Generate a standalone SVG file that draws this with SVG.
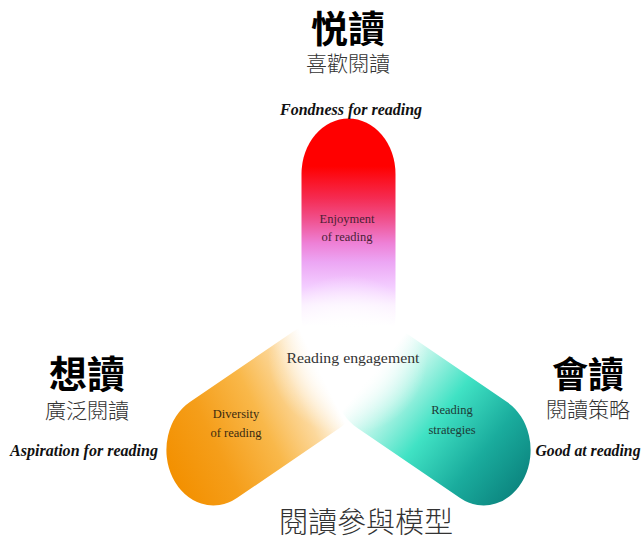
<svg xmlns="http://www.w3.org/2000/svg" width="642" height="540" viewBox="0 0 642 540">
<style>
.cjkb{font-family:"Noto Sans CJK TC","Noto Sans CJK SC",sans-serif;font-weight:700;fill:#000;text-anchor:middle}
.cjk{font-family:"Noto Sans CJK TC","Noto Sans CJK SC",sans-serif;font-weight:300;fill:#333;text-anchor:middle}
.en{font-family:"Liberation Serif",serif;font-weight:700;font-style:italic;font-size:16px;fill:#111;text-anchor:middle}
.lbl{font-family:"Liberation Serif",serif;font-size:12.5px;text-anchor:middle}
</style>
<defs>
<linearGradient id="gTop" gradientUnits="userSpaceOnUse" x1="0" y1="0" x2="203" y2="0">
<stop offset="0" stop-color="#ffffff"/>
<stop offset="0.13" stop-color="#ffffff"/>
<stop offset="0.22" stop-color="#fbeeff"/>
<stop offset="0.3" stop-color="#f3ccff"/>
<stop offset="0.4" stop-color="#eca6f4"/>
<stop offset="0.48" stop-color="#ee80d6"/>
<stop offset="0.58" stop-color="#f0508c"/>
<stop offset="0.67" stop-color="#f52a50"/>
<stop offset="0.8" stop-color="#ff0000"/>
<stop offset="1" stop-color="#ff0000"/>
</linearGradient>
<linearGradient id="gLeft" gradientUnits="userSpaceOnUse" x1="0" y1="0" x2="203" y2="0">
<stop offset="0" stop-color="#ffffff"/>
<stop offset="0.15" stop-color="#ffffff"/>
<stop offset="0.3" stop-color="#fcd89c"/>
<stop offset="0.5" stop-color="#f9b84a"/>
<stop offset="0.75" stop-color="#f59e1a"/>
<stop offset="1" stop-color="#f39000"/>
</linearGradient>
<linearGradient id="gRight" gradientUnits="userSpaceOnUse" x1="0" y1="-20" x2="203" y2="30">
<stop offset="0" stop-color="#ffffff"/>
<stop offset="0.15" stop-color="#ffffff"/>
<stop offset="0.3" stop-color="#b2f4e6"/>
<stop offset="0.5" stop-color="#40e2c4"/>
<stop offset="0.75" stop-color="#1aac9d"/>
<stop offset="1" stop-color="#0b827d"/>
</linearGradient>
<radialGradient id="glow" gradientUnits="userSpaceOnUse" cx="348" cy="355" r="80">
<stop offset="0" stop-color="#ffffff" stop-opacity="1"/>
<stop offset="0.4" stop-color="#ffffff" stop-opacity="0.85"/>
<stop offset="1" stop-color="#ffffff" stop-opacity="0"/>
</radialGradient>
</defs>
<rect width="642" height="540" fill="#ffffff"/>
<g id="arms" transform="translate(348.5,358) scale(1,1.18)">
<g id="arm-top" transform="rotate(-90)">
<rect x="-10" y="-47" width="213" height="94" rx="47" fill="url(#gTop)"/>
</g>
<g id="arm-left" transform="rotate(150)">
<rect x="-10" y="-47" width="213" height="94" rx="47" fill="url(#gLeft)"/>
</g>
<g id="arm-right" transform="rotate(30)">
<rect x="-10" y="-47" width="213" height="94" rx="47" fill="url(#gRight)"/>
</g>
</g>
<circle cx="348" cy="355" r="80" fill="url(#glow)"/>
<g id="arm-labels">
<text class="lbl" x="347" y="223" fill="#4a2035">Enjoyment</text>
<text class="lbl" x="347" y="241" fill="#4a2035">of reading</text>
<text class="lbl" x="236" y="418" fill="#3a2a10">Diversity</text>
<text class="lbl" x="236" y="437" fill="#3a2a10">of reading</text>
<text class="lbl" x="452" y="414" fill="#1e3a36">Reading</text>
<text class="lbl" x="452" y="434" fill="#1e3a36">strategies</text>
</g>
<g id="center">
<text x="353" y="363" font-family="Liberation Serif, serif" font-size="15.5" fill="#333" text-anchor="middle" textLength="133" lengthAdjust="spacingAndGlyphs">Reading engagement</text>
</g>
<g id="label-top">
<text class="cjkb" x="348" y="43" font-size="37">悦讀</text>
<text class="cjk" x="348" y="71" font-size="21">喜歡閱讀</text>
<text class="en" x="351" y="115" textLength="142" lengthAdjust="spacingAndGlyphs">Fondness for reading</text>
</g>
<g id="label-left">
<text class="cjkb" x="87" y="388" font-size="38">想讀</text>
<text class="cjk" x="87" y="418" font-size="21">廣泛閱讀</text>
<text class="en" x="84" y="456" textLength="148" lengthAdjust="spacingAndGlyphs">Aspiration for reading</text>
</g>
<g id="label-right">
<text class="cjkb" x="588" y="388" font-size="36">會讀</text>
<text class="cjk" x="588" y="417" font-size="21">閱讀策略</text>
<text class="en" x="588" y="456" textLength="105" lengthAdjust="spacingAndGlyphs">Good at reading</text>
</g>
<g id="title">
<text class="cjk" x="366" y="533" font-size="29" fill="#222">閱讀參與模型</text>
</g>
</svg>
